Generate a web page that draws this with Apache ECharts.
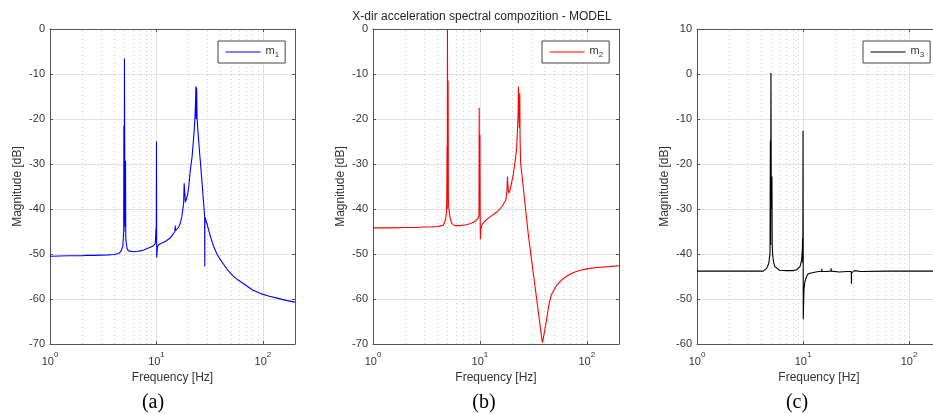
<!DOCTYPE html>
<html><head><meta charset="utf-8">
<script src="https://cdn.jsdelivr.net/npm/echarts@6/dist/echarts.min.js"></script>
<style>html,body{margin:0;padding:0;background:#fff}#c{width:933px;height:414px}</style>
</head><body><div id="c"></div>
<script>
// ---- data ----
const titleText = 'X-dir acceleration spectral compozition - MODEL';
const panelLabels = ['(a)', '(b)', '(c)'];
const seriesNames = ['m1', 'm2', 'm3'];
const seriesColors = ['#0000ff', '#ff0000', '#000000'];
const minorTicks = [2, 3, 4, 5, 6, 7, 8, 9, 20, 30, 40, 50, 60, 70, 80, 90];
const yRanges = [[-70, 0], [-70, 0], [-60, 10]];

const freqA = [1, 1.5, 2, 2.2, 2.6, 3, 3.5, 4, 4.4, 4.6, 4.73, 4.83, 4.88, 4.92, 4.94, 4.96, 4.99, 5.0, 5.02, 5.06, 5.1, 5.12, 5.15, 5.2, 5.3, 5.46, 5.7, 6.1, 6.6, 7.0, 7.6, 8.2, 8.75, 9.2, 9.5, 9.75, 9.85, 9.9, 9.95, 10.0, 10.05, 10.1, 10.2, 10.4, 10.9, 11.7, 12.5, 13.5, 14.3, 14.9, 15.0, 15.1, 15.6, 16.2, 16.8, 17.3, 17.7, 18.0, 18.2, 18.4, 18.7, 19.1, 19.6, 20.1, 20.8, 21.6, 22.5, 23.0, 23.3, 23.45, 23.6, 23.75, 23.9, 24.05, 24.1, 25.0, 26.0, 27.0, 28.0, 28.35, 28.4, 28.5, 29.0, 30.0, 30.9, 32.5, 34.5, 37.0, 39.9, 43.0, 46.0, 47.7, 52.0, 57.0, 66.0, 80.0, 95.0, 115, 136, 165, 200];
const magA  = [-50.5, -50.4, -50.4, -50.3, -50.3, -50.25, -50.2, -50.1, -49.9, -49.5, -49.1, -48.4, -46.5, -45, -21.5, -45, -30, -6.5, -20, -40, -44, -29.3, -46.5, -47.5, -48.8, -49.3, -49.5, -49.5, -49.4, -49.3, -49.1, -48.8, -48.5, -48.3, -48.0, -47.7, -47.4, -44.3, -47, -25, -50.8, -50.6, -48.6, -48.0, -47.7, -47.4, -47.0, -46.4, -45.6, -45.0, -43.7, -44.8, -44.6, -44.0, -43.0, -41.7, -40.0, -38.7, -34.3, -34.5, -38.5, -38.1, -36.8, -35.0, -31.3, -28.4, -23.2, -19.5, -16, -12.8, -20, -13, -14, -20, -20.2, -25.4, -30.3, -35.2, -40.0, -41.7, -52.8, -41.8, -41.9, -43.5, -44.7, -46.5, -48.4, -50.0, -51.3, -52.4, -53.4, -53.8, -54.8, -55.6, -56.6, -58.0, -58.8, -59.4, -59.8, -60.3, -60.7];

const freqB = [1, 1.5, 2, 2.5, 3, 3.5, 4.0, 4.21, 4.54, 4.77, 4.85, 4.9, 4.93, 4.95, 4.97, 5.0, 5.04, 5.07, 5.12, 5.25, 5.43, 5.83, 6.5, 7.5, 8.2, 8.97, 9.6, 9.8, 9.85, 9.92, 10.0, 10.05, 10.1, 10.2, 10.4, 11.0, 11.6, 12.5, 13.8, 15.0, 16.0, 17.0, 17.5, 17.9, 18.1, 18.3, 18.6, 19.2, 20.5, 21.3, 22.0, 22.5, 22.8, 22.9, 23.1, 23.4, 23.6, 23.75, 24.0, 25.0, 26.0, 27.0, 28.4, 30.0, 32.0, 34.0, 36.0, 38.0, 38.5, 40.0, 42.0, 44.0, 46.5, 48.0, 52.4, 58.0, 65.0, 75.0, 87.0, 100, 124, 160, 200];
const magB  = [-44.2, -44.2, -44.1, -44.1, -44.0, -44.0, -43.9, -43.8, -43.6, -42.4, -41, -38, -26, -40, 0, -20, -11.5, -38, -39.8, -41.8, -43.2, -43.7, -43.7, -43.5, -43.2, -42.8, -42.1, -41.5, -17.5, -40, -23.5, -41, -46.7, -44.5, -43.6, -42.8, -42.3, -41.7, -41.0, -40.3, -39.5, -38.5, -38, -36, -32.8, -35, -36.5, -35.7, -32.4, -29.5, -26.9, -22, -18.4, -12.8, -17, -22, -14.3, -24, -29.6, -33.4, -37.4, -41.0, -45.8, -50.2, -55.3, -60.1, -64.7, -69.0, -69.7, -67.5, -64.7, -61.5, -59.1, -58.5, -56.9, -55.8, -54.9, -54.1, -53.6, -53.3, -53.0, -52.8, -52.6];

const freqC = [1, 2, 3, 4, 4.22, 4.54, 4.75, 4.88, 4.92, 4.95, 4.98, 5.02, 5.09, 5.12, 5.18, 5.3, 5.43, 6.0, 7.0, 8.0, 8.7, 9.36, 9.7, 9.85, 9.9, 9.95, 10.0, 10.05, 10.1, 10.2, 10.4, 10.8, 11.2, 12.5, 14.0, 15.0, 15.05, 15.1, 16.5, 18.3, 18.4, 18.5, 19, 22, 26, 28.5, 28.6, 28.7, 29.5, 30.7, 35, 60, 100, 200];
const magC  = [-43.8, -43.8, -43.8, -43.8, -43.8, -43.2, -42.1, -39.8, -14.8, -38, 0.2, -30, -22.8, -38, -40.5, -42.0, -42.8, -43.6, -43.7, -43.7, -43.5, -42.8, -41.3, -39, -36.5, -42, -12.6, -54.5, -54.3, -48, -46.2, -45.0, -44.4, -44.1, -43.9, -43.9, -43.3, -43.9, -43.9, -43.8, -43.2, -43.8, -44.0, -44.0, -43.9, -43.9, -46.6, -44.2, -43.9, -43.7, -43.9, -43.8, -43.8, -43.8];

const freqs = [freqA, freqB, freqC];
const mags = [magA, magB, magC];

// ---- layout ----
const grids = [
  {left: 50, top: 29, width: 245, height: 315},
  {left: 373, top: 29, width: 246, height: 315},
  {left: 697, top: 29, width: 244, height: 315}
];
const legendPos = [{left: 218, top: 41}, {left: 542, top: 41}, {left: 863, top: 41}];
const labelX = [153, 484, 797];

const FONT = '"Liberation Sans", Arial, Helvetica, sans-serif';
const AX = '#555';
const TXT = '#333';

function logLabel(v) {
  const e = Math.round(Math.log10(v));
  if (Math.abs(Math.pow(10, e) - v) > 1e-6 * v) return '';
  return '{b|10}{s|' + e + '}';
}

const xAxis = [], yAxis = [], series = [], legend = [];
for (let i = 0; i < 3; i++) {
  xAxis.push({
    gridIndex: i, type: 'log', logBase: 10, min: 1, max: 200, position: 'bottom',
    axisLine: {show: true, onZero: false, lineStyle: {color: AX, width: 1}},
    axisTick: {show: true, inside: true, length: 3, lineStyle: {color: AX}},
    axisLabel: {formatter: logLabel, margin: 7, color: TXT, fontFamily: FONT,
      rich: {b: {fontSize: 11, fontFamily: FONT, color: TXT, lineHeight: 16, verticalAlign: 'bottom'},
             s: {fontSize: 8, fontFamily: FONT, color: TXT, lineHeight: 9, verticalAlign: 'top'}}},
    splitLine: {show: true, lineStyle: {color: '#e2e2e2', width: 1}},
    name: 'Frequency [Hz]', nameLocation: 'middle', nameGap: 25,
    nameTextStyle: {fontSize: 12, color: TXT, fontFamily: FONT}
  });
  xAxis.push({
    gridIndex: i, type: 'log', logBase: 10, min: 1, max: 200, position: 'top',
    axisLine: {show: true, onZero: false, lineStyle: {color: AX, width: 1}},
    axisTick: {show: true, inside: true, length: 3, lineStyle: {color: AX}},
    axisLabel: {show: false}, splitLine: {show: false}
  });
  yAxis.push({
    gridIndex: i, type: 'value', min: yRanges[i][0], max: yRanges[i][1], interval: 10,
    axisLine: {show: true, onZero: false, lineStyle: {color: AX, width: 1}},
    axisTick: {show: true, inside: true, length: 3, lineStyle: {color: AX}},
    axisLabel: {fontSize: 11, color: TXT, margin: 5, fontFamily: FONT},
    splitLine: {show: true, lineStyle: {color: '#e2e2e2', width: 1}},
    name: 'Magnitude [dB]', nameLocation: 'middle', nameGap: 26, nameRotate: 90,
    nameTextStyle: {fontSize: 12, color: TXT, fontFamily: FONT}
  });
  yAxis.push({
    gridIndex: i, type: 'value', min: yRanges[i][0], max: yRanges[i][1], interval: 10, position: 'right',
    axisLine: {show: true, onZero: false, lineStyle: {color: AX, width: 1}},
    axisTick: {show: true, inside: true, length: 3, lineStyle: {color: AX}},
    axisLabel: {show: false}, splitLine: {show: false}
  });
  // minor dotted grid lines
  series.push({
    type: 'line', name: 'minor' + i, xAxisIndex: 2 * i, yAxisIndex: 2 * i, data: [], silent: true, z: 1,
    markLine: {symbol: ['none', 'none'], silent: true, animation: false, label: {show: false}, z: 1,
      lineStyle: {type: [1, 3], color: '#cfcfcf', width: 1},
      emphasis: {disabled: true},
      data: minorTicks.map(v => ({xAxis: v}))}
  });
  series.push({
    type: 'line', name: seriesNames[i], xAxisIndex: 2 * i, yAxisIndex: 2 * i, z: 5,
    data: freqs[i].map((f, k) => [f, mags[i][k]]),
    symbol: 'none', showSymbol: false, animation: false,
    lineStyle: {color: seriesColors[i], width: 1.1}, itemStyle: {color: seriesColors[i]}
  });
  legend.push({
    data: [seriesNames[i]], left: legendPos[i].left, top: legendPos[i].top,
    orient: 'vertical', padding: [4, 6, 4, 7], itemWidth: 35, itemHeight: 12, itemGap: 0,
    borderColor: '#444', borderWidth: 1, backgroundColor: '#fff',
    selectedMode: false,
    itemStyle: {opacity: 0},
    lineStyle: {width: 1.1},
    formatter: n => '{b|m}{s|' + n.slice(1) + '}',
    textStyle: {color: TXT, fontFamily: FONT, rich: {
      b: {fontSize: 11, fontFamily: FONT, color: TXT, lineHeight: 14, verticalAlign: 'top'},
      s: {fontSize: 8, fontFamily: FONT, color: TXT, lineHeight: 8, verticalAlign: 'bottom'}}}
  });
}

const graphic = [{
  type: 'text', x: 482, y: 17, silent: true,
  style: {text: titleText, align: 'center', verticalAlign: 'middle', font: '12px ' + FONT, fill: '#262626'}
}];
for (let i = 0; i < 3; i++) {
  graphic.push({
    type: 'text', x: labelX[i], y: 403, silent: true,
    style: {text: panelLabels[i], align: 'center', verticalAlign: 'middle',
      font: '20px "Liberation Serif", "Times New Roman", serif', fill: '#000'}
  });
}

const chart = echarts.init(document.getElementById('c'), null, {renderer: 'canvas'});
chart.setOption({
  backgroundColor: '#fff',
  animation: false,
  grid: grids.map(g => Object.assign({show: false, containLabel: false, outerBoundsMode: 'none'}, g)),
  xAxis, yAxis, series, legend, graphic
});
</script>
</body></html>
